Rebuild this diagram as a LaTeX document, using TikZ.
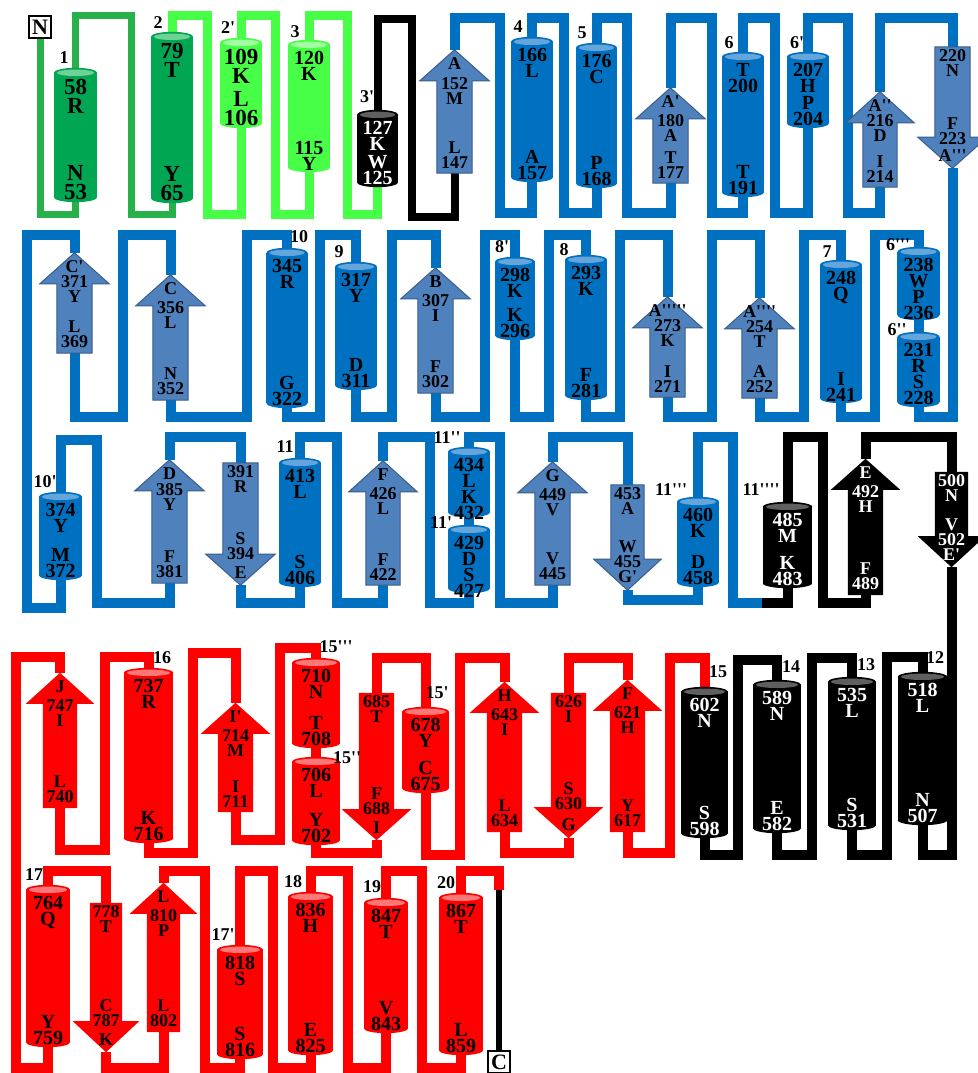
\documentclass[tikz,border=0pt]{standalone}
\usepackage{fontspec}
\newfontfamily\lsb{Liberation Serif}
\usetikzlibrary{calc}

\definecolor{hdkgreen}{RGB}{0,166,81}
\definecolor{hdkgreentop}{RGB}{110,210,150}
\definecolor{ldkgreen}{RGB}{40,176,74}
\definecolor{hlgreen}{RGB}{70,255,70}
\definecolor{hlgreentop}{RGB}{160,255,160}
\definecolor{hblue}{RGB}{0,112,192}
\definecolor{hbluetop}{RGB}{100,165,220}
\definecolor{stblue}{RGB}{79,129,189}
\definecolor{stedge}{RGB}{56,93,138}
\definecolor{hred}{RGB}{255,0,0}
\definecolor{hredtop}{RGB}{255,120,120}
\definecolor{hgreytop}{RGB}{95,95,95}

\pgfdeclarelayer{background}
\pgfdeclarelayer{shapes}
\pgfsetlayers{background,shapes,main}

% helix text: width, height, top text, bottom text
\newcommand{\hx}[4]{\parbox[c][#2pt][s]{#1pt}{\centering\vspace*{6pt}#3\par\vfill #4\par\vspace*{-3pt}}}
% strand text: width, length, top text, bottom text (up and down strands)
\newcommand{\sx}[4]{\parbox[c][#2pt][s]{#1pt}{\centering\vspace*{8pt}#3\par\vfill #4\par\vspace*{5pt}}}
\newcommand{\dsx}[4]{\parbox[c][#2pt][s]{#1pt}{\centering\vspace*{3pt}#3\par\vfill #4\par\vspace*{7pt}}}
\newcommand{\wlab}[1]{\makebox[\linewidth]{#1}}

% cylinder behind a helix node
\newcommand{\cyl}[3]{%
  \begin{pgfonlayer}{shapes}
    \fill[#2] (#1.north west) rectangle (#1.south east);
    \fill[#2] let \p1=($(#1.east)-(#1.west)$) in (#1.south) ellipse[x radius=0.5*\x1, y radius=5pt];
    \fill[#2] let \p1=($(#1.east)-(#1.west)$) in (#1.north) ellipse[x radius=0.5*\x1, y radius=5pt];
    \fill[#3] let \p1=($(#1.east)-(#1.west)$) in (#1.north) ellipse[x radius=0.5*\x1-3pt, y radius=3.2pt];
  \end{pgfonlayer}}
% arrows behind strand nodes
\newcommand{\upstr}[2]{%
  \begin{pgfonlayer}{shapes}
    \path[#2] (#1.south west) -- ([yshift=-31pt]#1.north west) -- ++(-17pt,0pt) -- (#1.north)
      -- ([xshift=17pt,yshift=-31pt]#1.north east) -- ([yshift=-31pt]#1.north east) -- (#1.south east) -- cycle;
  \end{pgfonlayer}}
\newcommand{\dnstr}[2]{%
  \begin{pgfonlayer}{shapes}
    \path[#2] (#1.north west) -- ([yshift=31pt]#1.south west) -- ++(-17pt,0pt) -- (#1.south)
      -- ([xshift=17pt,yshift=31pt]#1.south east) -- ([yshift=31pt]#1.south east) -- (#1.north east) -- cycle;
  \end{pgfonlayer}}

\begin{document}
\begin{tikzpicture}[x=1pt, y=-1pt,
    hlx/.style={inner sep=0pt, font=\lsb\bfseries\fontsize{20}{16}\selectfont},
    big/.style={font=\lsb\bfseries\fontsize{23}{19.5}\selectfont},
    stv/.style={inner sep=0pt, font=\lsb\bfseries\fontsize{18}{15}\selectfont},
    wht/.style={text=white},
    num/.style={inner sep=0pt, font=\lsb\bfseries\fontsize{18}{18}\selectfont},
    term/.style={draw, line width=2.5pt, fill=white, minimum width=22pt, minimum height=22pt, inner sep=0pt, font=\lsb\bfseries\fontsize{22}{22}\selectfont},
    bstr/.style={fill=stblue, draw=stedge, line width=1pt},
    rstr/.style={fill=hred},
    kstr/.style={fill=black},
    dgl/.style={draw=ldkgreen, line width=7pt},
    lgl/.style={draw=hlgreen, line width=9pt},
    kl/.style={draw=black, line width=8pt},
    bl/.style={draw=hblue, line width=10pt},
    rl/.style={draw=hred, line width=10pt},
    kl2/.style={draw=black, line width=10pt},
]
\useasboundingbox (0,0) rectangle (977,1073);

% === Row 1: N terminus to A''' ===
\node[term] (Nbox) at (40,27) {N};
\node[hlx, big] (h1) at (75.5,135) {\hx{43}{124}{58\\R}{N\\53}};
\cyl{h1}{hdkgreen}{hdkgreentop}
\node[hlx, big] (h2) at (172,117.5) {\hx{42}{161}{79\\T}{Y\\65}};
\cyl{h2}{hdkgreen}{hdkgreentop}
\node[hlx, big] (h2p) at (241,83) {\hx{42}{80}{109\\K}{L\\106}};
\cyl{h2p}{hlgreen}{hlgreentop}
\node[hlx] (h3) at (309,106) {\hx{42}{122}{120\\K}{115\\Y}};
\cyl{h3}{hlgreen}{hlgreentop}
\node[hlx, wht] (h3p) at (377.5,148.5) {\hx{41}{67}{127\\K}{W\\125}};
\cyl{h3p}{black}{hgreytop}
\node[stv] (sA) at (454.5,111.5) {\sx{35}{123}{A\\[5pt]152\\M}{L\\147}};
\upstr{sA}{bstr}
\node[hlx] (h4) at (532,109.5) {\hx{42}{135}{166\\L}{A\\157}};
\cyl{h4}{hblue}{hbluetop}
\node[hlx] (h5) at (596.5,115.5) {\hx{41}{135}{176\\C}{P\\168}};
\cyl{h5}{hblue}{hbluetop}
\node[stv] (sAp) at (670.5,135.5) {\sx{35}{95}{A'\\[4pt]180\\A}{T\\177}};
\upstr{sAp}{bstr}
\node[hlx] (h6) at (743,124.5) {\hx{42}{135}{T\\200}{T\\191}};
\cyl{h6}{hblue}{hbluetop}
\node[hlx] (h6p) at (808,90) {\hx{42}{66}{207\\H}{P\\204}};
\cyl{h6p}{hblue}{hbluetop}
\node[stv] (sApp) at (880,139.5) {\sx{34}{95}{A''\\216\\D}{I\\214}};
\upstr{sApp}{bstr}
\node[stv] (sAppp) at (952.5,107.5) {\dsx{35}{121}{220\\N}{F\\223\\[2pt]A'''}};
\dnstr{sAppp}{bstr}

\node[num] (n1) at (64,58) {1};
\node[num] (n2) at (158,23) {2};
\node[num] (n2p) at (228,28) {2'};
\node[num] (n3) at (295,32) {3};
\node[num] (n3p) at (367,97) {3'};
\node[num] (n4) at (518,27) {4};
\node[num] (n5) at (582,33) {5};
\node[num] (n6) at (729,43) {6};
\node[num] (n6p) at (797,43) {6'};

% === Row 2: 6'' back to C' ===
\node[hlx] (h6pp) at (918.5,369.5) {\hx{42}{65}{231\\R}{S\\228}};
\cyl{h6pp}{hblue}{hbluetop}
\node[hlx] (h6ppp) at (918.5,283.5) {\hx{42}{63}{238\\W}{P\\236}};
\cyl{h6ppp}{hblue}{hbluetop}
\node[hlx] (h7) at (841,331.5) {\hx{42}{133}{248\\Q}{I\\241}};
\cyl{h7}{hblue}{hbluetop}
\node[stv] (sA4) at (759.5,348) {\sx{35}{100}{\wlab{A''''}\\254\\T}{A\\252}};
\upstr{sA4}{bstr}
\node[stv] (sA5) at (667.5,347) {\sx{35}{100}{\wlab{A'''''}\\273\\K}{I\\271}};
\upstr{sA5}{bstr}
\node[hlx] (h8) at (586,327.5) {\hx{42}{135}{293\\K}{F\\281}};
\cyl{h8}{hblue}{hbluetop}
\node[hlx] (h8p) at (515,298.5) {\hx{40}{73}{298\\K}{K\\296}};
\cyl{h8p}{hblue}{hbluetop}
\node[stv] (sB) at (435.5,330.5) {\sx{35}{125}{B\\[4pt]307\\I}{F\\302}};
\upstr{sB}{bstr}
\node[hlx] (h9) at (356,326) {\hx{42}{118}{317\\Y}{D\\311}};
\cyl{h9}{hblue}{hbluetop}
\node[hlx] (h10) at (287,328) {\hx{41}{150}{345\\R}{G\\322}};
\cyl{h10}{hblue}{hbluetop}
\node[stv] (sC) at (170.5,337.5) {\sx{35}{125}{C\\[4pt]356\\L}{N\\352}};
\upstr{sC}{bstr}
\node[stv] (sCp) at (74.5,303) {\sx{35}{100}{C'\\371\\Y}{L\\369}};
\upstr{sCp}{bstr}

\node[num] (n10) at (299,237) {10};
\node[num] (n9) at (339,252) {9};
\node[num] (n8p) at (502,247) {8'};
\node[num] (n8) at (564,250) {8};
\node[num] (n7) at (827,252) {7};
\node[num] (n6ppp) at (898,245) {6'''};
\node[num] (n6pp) at (897,330) {6''};

% === Row 3: 10' to E' ===
\node[hlx] (h10p) at (60.5,536) {\hx{43}{78}{374\\Y}{M\\372}};
\cyl{h10p}{hblue}{hbluetop}
\node[stv] (sD) at (169.5,521.5) {\sx{35}{123}{D\\[1pt]385\\Y}{F\\381}};
\upstr{sD}{bstr}
\node[stv] (sE) at (240.5,524) {\dsx{35}{122}{391\\R}{S\\394\\[4pt]E}};
\dnstr{sE}{bstr}
\node[hlx] (h11) at (300,522.5) {\hx{42}{119}{413\\L}{S\\406}};
\cyl{h11}{hblue}{hbluetop}
\node[stv] (sF) at (383,523) {\sx{34}{124}{F\\[4pt]426\\L}{F\\422}};
\upstr{sF}{bstr}
\node[hlx] (h11p) at (469,559) {\hx{42}{58}{429\\D}{S\\427}};
\cyl{h11p}{hblue}{hbluetop}
\node[hlx] (h11pp) at (469,482) {\hx{42}{60}{434\\L}{K\\432}};
\cyl{h11pp}{hblue}{hbluetop}
\node[stv] (sG) at (552.5,523.5) {\sx{35}{123}{G\\[4pt]449\\V}{V\\445}};
\upstr{sG}{bstr}
\node[stv] (sGp) at (627.5,537.5) {\dsx{33}{105}{453\\A}{W\\455\\G'}};
\dnstr{sGp}{bstr}
\node[hlx] (h11ppp) at (698,542) {\hx{42}{80}{460\\K}{D\\458}};
\cyl{h11ppp}{hblue}{hbluetop}
\node[hlx, wht] (h11pppp) at (787.5,545) {\hx{49}{76}{485\\M}{K\\483}};
\cyl{h11pppp}{black}{hgreytop}
\node[stv, wht] (sEb) at (865.5,527) {\sx{35}{136}{E\\[4pt]492\\H}{F\\489}};
\upstr{sEb}{kstr}
\node[stv, wht] (sEbp) at (951.5,519.5) {\dsx{33}{95}{500\\N}{V\\502\\E'}};
\dnstr{sEbp}{kstr}

\node[num] (n10p) at (45,482) {10'};
\node[num] (n11) at (285,447) {11};
\node[num] (n11pp) at (447,438) {11''};
\node[num] (n11p) at (441,523) {11'};
\node[num] (n11ppp) at (671,490) {11'''};
\node[num] (n11pppp) at (761,490) {11''''};

% === Row 4: 12 back to J ===
\node[hlx, wht] (h12) at (922.5,748.5) {\hx{49}{143}{518\\L}{N\\507}};
\cyl{h12}{black}{hgreytop}
\node[hlx, wht] (h13) at (852,753.5) {\hx{48}{143}{535\\L}{S\\531}};
\cyl{h13}{black}{hgreytop}
\node[hlx, wht] (h14) at (777,756.5) {\hx{48}{143}{589\\N}{E\\582}};
\cyl{h14}{black}{hgreytop}
\node[hlx, wht] (h15) at (704.5,762.5) {\hx{47}{141}{602\\N}{S\\598}};
\cyl{h15}{black}{hgreytop}
\node[stv] (sFr) at (627.5,756) {\sx{35}{152}{F\\[4pt]621\\H}{Y\\617}};
\upstr{sFr}{rstr}
\node[stv] (sGr) at (568.5,765.5) {\dsx{35}{145}{626\\I}{S\\630\\[6pt]G}};
\dnstr{sGr}{rstr}
\node[stv] (sH) at (504.5,757) {\sx{35}{150}{H\\[4pt]643\\I}{L\\634}};
\upstr{sH}{rstr}
\node[hlx] (h15p) at (425.5,750) {\hx{47}{76}{678\\Y}{C\\675}};
\cyl{h15p}{hred}{hredtop}
\node[stv] (sI) at (376.5,766.5) {\dsx{35}{147}{685\\T}{F\\688\\[4pt]I}};
\dnstr{sI}{rstr}
\node[hlx] (h15pp) at (316,801) {\hx{48}{78}{706\\L}{Y\\702}};
\cyl{h15pp}{hred}{hredtop}
\node[hlx] (h15ppp) at (316,703) {\hx{48}{80}{710\\N}{T\\708}};
\cyl{h15ppp}{hred}{hredtop}
\node[stv] (sIp) at (235.5,757.5) {\sx{35}{109}{I'\\[4pt]714\\M}{I\\711}};
\upstr{sIp}{rstr}
\node[hlx] (h16) at (148.5,755.5) {\hx{49}{165}{737\\R}{K\\716}};
\cyl{h16}{hred}{hredtop}
\node[stv] (sJ) at (60,740.5) {\sx{34}{135}{J\\[4pt]747\\I}{L\\740}};
\upstr{sJ}{rstr}

\node[num] (n12) at (935,658) {12};
\node[num] (n13) at (866,665) {13};
\node[num] (n14) at (791,667) {14};
\node[num] (n15) at (718,672) {15};
\node[num] (n15p) at (437,693) {15'};
\node[num] (n15pp) at (347,758) {15''};
\node[num] (n15ppp) at (336,647) {15'''};
\node[num] (n16) at (162,658) {16};

% === Row 5: 17 to C terminus ===
\node[hlx] (h17) at (48,966) {\hx{44}{152}{764\\Q}{Y\\759}};
\cyl{h17}{hred}{hredtop}
\node[stv] (sK) at (106,977.5) {\dsx{32}{149}{778\\T}{C\\787\\[4pt]K}};
\dnstr{sK}{rstr}
\node[stv] (sL) at (163.5,957.5) {\sx{33}{149}{L\\[4pt]810\\P}{L\\802}};
\upstr{sL}{rstr}
\node[hlx] (h17p) at (240,1002) {\hx{46}{104}{818\\S}{S\\816}};
\cyl{h17p}{hred}{hredtop}
\node[hlx] (h18) at (310.5,973.5) {\hx{45}{153}{836\\H}{E\\825}};
\cyl{h18}{hred}{hredtop}
\node[hlx] (h19) at (386,965.5) {\hx{44}{125}{847\\T}{V\\843}};
\cyl{h19}{hred}{hredtop}
\node[hlx] (h20) at (461,974) {\hx{44}{152}{867\\T}{L\\859}};
\cyl{h20}{hred}{hredtop}
\node[term] (Cbox) at (499,1062) {C};

\node[num] (n17) at (34,875) {17};
\node[num] (n17p) at (223,935) {17'};
\node[num] (n18) at (293,882) {18};
\node[num] (n19) at (372,887) {19};
\node[num] (n20) at (446,883) {20};

\coordinate (bk) at (762,603);
\coordinate (cr) at (499,890);

% chain, behind everything
\begin{pgfonlayer}{background}
\fill[white] (0,0) rectangle (977,1073);
\draw[dgl] (Nbox.south) -- (Nbox.south |- 0,214) -| (h1.south);
\draw[dgl] (h1.north) |- (131,16) -- (131,214) -| (h2.south);
\draw[lgl] (h2.north) |- (207,16) -- (207,214) -| (h2p.south);
\draw[lgl] (h2p.north) |- (275,16) -- (275,214) -| (h3.south);
\draw[lgl] (h3.north) |- (347,16) -- (347,214) -| (h3p.south);
\draw[kl] (h3p.north) |- (412,19) -- (412,217) -| (sA.south);
\draw[bl] (sA.north) |- (500,18) -- (500,213) -| (h4.south);
\draw[bl] (h4.north) |- (564,18) -- (564,213) -| (h5.south);
\draw[bl] (h5.north) |- (627,18) -- (627,213) -| (sAp.south);
\draw[bl] (sAp.north) |- (712,18) -- (712,213) -| (h6.south);
\draw[bl] (h6.north) |- (775,18) -- (775,213) -| (h6p.south);
\draw[bl] (h6p.north) |- (848,18) -- (848,213) -| (sApp.south);
\draw[bl] (sApp.north) |- (sAppp.north |- 0,18) -- (sAppp.north);
% row 2
\draw[bl] (sAppp.south) -- (sAppp.south |- 0,417) -| (h6pp.south);
\draw[bl] (h6pp.north) -- (h6ppp.south);
\draw[bl] (h6ppp.north) |- (875,235) -- (875,417) -| (h7.south);
\draw[bl] (h7.north) |- (804,235) -- (804,417) -| (sA4.south);
\draw[bl] (sA4.north) |- (712,235) -- (712,417) -| (sA5.south);
\draw[bl] (sA5.north) |- (620,235) -- (620,417) -| (h8.south);
\draw[bl] (h8.north) |- (549,235) -- (549,417) -| (h8p.south);
\draw[bl] (h8p.north) |- (485,235) -- (485,417) -| (sB.south);
\draw[bl] (sB.north) |- (392,235) -- (392,417) -| (h9.south);
\draw[bl] (h9.north) |- (320,235) -- (320,417) -| (h10.south);
\draw[bl] (h10.north) |- (247,235) -- (247,417) -| (sC.south);
\draw[bl] (sC.north) |- (123,235) -- (123,417) -| (sCp.south);
\draw[bl] (sCp.north) |- (27,235) -- (27,608) -| (h10p.south);
% row 3
\draw[bl] (h10p.north) |- (97,440) -- (97,603) -| (sD.south);
\draw[bl] (sD.north) |- (sE.north |- 0,437) -- (sE.north);
\draw[bl] (sE.south) -- (sE.south |- 0,603) -| (h11.south);
\draw[bl] (h11.north) |- (337,437) -- (337,603) -| (sF.south);
\draw[bl] (sF.north) |- (430,437) -- (430,603) -| (h11p.south);
\draw[bl] (h11p.north) -- (h11pp.south);
\draw[bl] (h11pp.north) |- (500,437) -- (500,603) -| (sG.south);
\draw[bl] (sG.north) |- (sGp.north |- 0,437) -- (sGp.north);
\draw[bl] (sGp.south) -- (sGp.south |- 0,600) -| (h11ppp.south);
\draw[bl] (h11ppp.north) |- (733,437) -- (733,603) -- (bk);
\draw[kl2] (bk) -| (h11pppp.south);
\draw[kl2] (h11pppp.north) |- (823,437) -- (823,603) -| (sEb.south);
\draw[kl2] (sEb.north) |- (sEbp.north |- 0,437) -- (sEbp.north);
\draw[kl2] (sEbp.south) -- (sEbp.south |- 0,855) -| (h12.south);
% row 4
\draw[kl2] (h12.north) |- (887,657) -- (887,855) -| (h13.south);
\draw[kl2] (h13.north) |- (812,658) -- (812,855) -| (h14.south);
\draw[kl2] (h14.north) |- (738,660) -- (738,855) -| (h15.south);
\draw[rl] (h15.north) |- (670,658) -- (670,853) -| (sFr.south);
\draw[rl] (sFr.north) |- (sGr.north |- 0,658) -- (sGr.north);
\draw[rl] (sGr.south) -- (sGr.south |- 0,853) -| (sH.south);
\draw[rl] (sH.north) |- (460,658) -- (460,855) -| (h15p.south);
\draw[rl] (h15p.north) |- (sI.north |- 0,658) -- (sI.north);
\draw[rl] (sI.south) -- (sI.south |- 0,853) -| (h15pp.south);
\draw[rl] (h15pp.north) -- (h15ppp.south);
\draw[rl] (h15ppp.north) |- (280,648) -- (280,840) -| (sIp.south);
\draw[rl] (sIp.north) |- (193,653) -- (193,853) -| (h16.south);
\draw[rl] (h16.north) |- (105,657) -- (105,850) -| (sJ.south);
\draw[rl] (sJ.north) |- (16,657) -- (16,1068) -| (h17.south);
% row 5
\draw[rl] (h17.north) |- (sK.north |- 0,871) -- (sK.north);
\draw[rl] (sK.south) -- (sK.south |- 0,1068) -| (sL.south);
\draw[rl] (sL.north) |- (205,871) -- (205,1068) -| (h17p.south);
\draw[rl] (h17p.north) |- (273,871) -- (273,1068) -| (h18.south);
\draw[rl] (h18.north) |- (348,871) -- (348,1068) -| (h19.south);
\draw[rl] (h19.north) |- (422,871) -- (422,1068) -| (h20.south);
\draw[rl] (h20.north) |- (499,871) -- (cr);
\draw[draw=black, line width=6pt] (cr) -- (Cbox.north);
\end{pgfonlayer}
\end{tikzpicture}
\end{document}
